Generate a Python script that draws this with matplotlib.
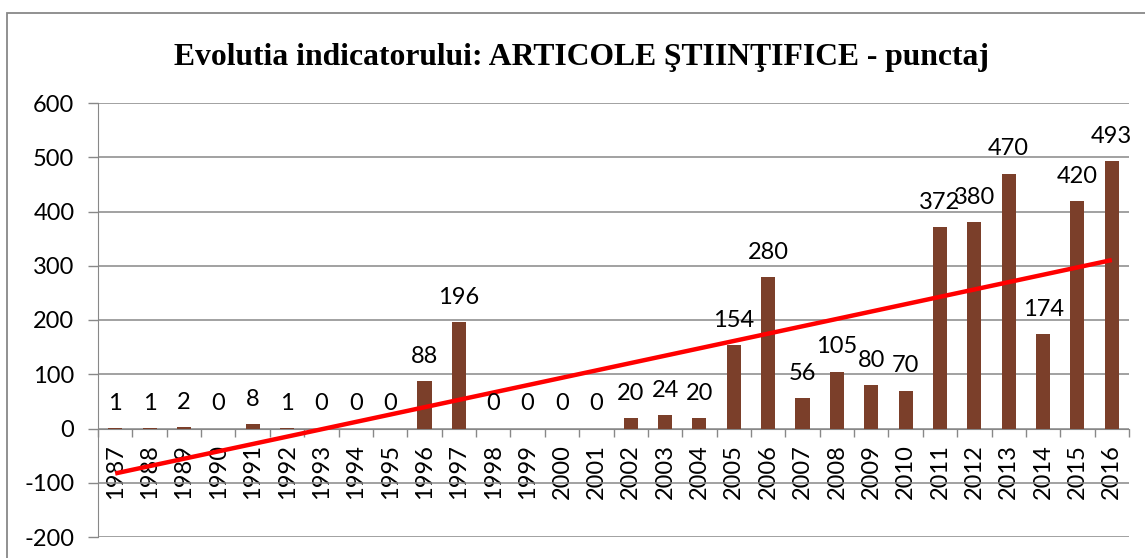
import numpy as np
import matplotlib.pyplot as plt
from matplotlib.patches import Rectangle

years = [str(y) for y in range(1987, 2017)]
values = [1, 1, 2, 0, 8, 1, 0, 0, 0, 88, 196, 0, 0, 0, 0,
          20, 24, 20, 154, 280, 56, 105, 80, 70, 372, 380, 470, 174, 420, 493]
y_ticks = [-200, -100, 0, 100, 200, 300, 400, 500, 600]
title = "Evolutia indicatorului: ARTICOLE ŞTIINŢIFICE - punctaj"

W, H = 1145, 558
bar_color = "#7B3F2A"
grid_color = "#888888"

plt.rcParams['font.family'] = ['Lato', 'DejaVu Sans']
plt.rcParams['axes.unicode_minus'] = False

fig = plt.figure(figsize=(W / 100, H / 100), dpi=100)
ax = fig.add_axes([98 / W, 1 - 537 / H, (1129 - 98) / W, (537 - 103) / H])

x = np.arange(len(values))
ax.bar(x, values, width=0.41, color=bar_color, zorder=3)

# linear trend line (as Excel computes it)
slope, intercept = np.polyfit(x, values, 1)
ax.plot(x, slope * x + intercept, color="#FF0000", lw=3.2, zorder=4,
        solid_capstyle='butt')

# value labels above bars
for xi, v in zip(x, values):
    ax.annotate(str(v), (xi, v), xytext=(0, 13), textcoords='offset points',
                ha='center', va='baseline', fontsize=17, color='black', zorder=5)

ax.set_xlim(-0.5, len(values) - 0.5)
ax.set_ylim(-200, 600)
ax.set_yticks(y_ticks)
ax.tick_params(axis='y', labelsize=17, length=7, width=1, color=grid_color, pad=10)
ax.yaxis.grid(True, color=grid_color, lw=1.1, zorder=0)

# category axis crossing at 0, ticks at category boundaries
ax.spines['bottom'].set_position(('data', 0))
ax.spines['bottom'].set_color(grid_color)
ax.spines['left'].set_color(grid_color)
ax.spines['top'].set_visible(False)
ax.spines['right'].set_visible(False)
ax.set_xticks(np.arange(-0.5, len(values), 1.0))
ax.set_xticklabels([])
ax.tick_params(axis='x', which='major', length=6, width=1, color=grid_color, direction='out')
ax.set_xticks(x, minor=True)
ax.set_xticklabels(years, minor=True, rotation=90, fontsize=17)
ax.tick_params(axis='x', which='minor', length=0, pad=11)
for lbl in ax.get_xticklabels(minor=True):
    lbl.set_verticalalignment('top')

fig.text(581 / W, 1 - 57 / H, title, ha='center', va='center',
         fontsize=22.8, fontweight='bold', family='Liberation Serif')

# chart area border (left and top visible)
fig.patches.append(Rectangle((7 / W, -0.1), 1.2, 1 - 13 / H + 0.1,
                             transform=fig.transFigure, fill=False,
                             edgecolor=grid_color, lw=1.3))

fig.savefig("out.png", dpi=100)
